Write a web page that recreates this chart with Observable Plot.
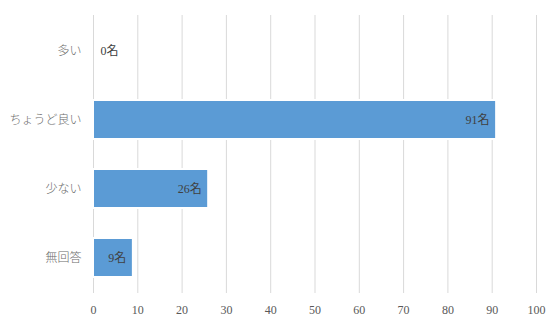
<!DOCTYPE html>
<html>
<head>
<meta charset="utf-8">
<script src="https://cdn.jsdelivr.net/npm/d3@7"></script>
<script src="https://cdn.jsdelivr.net/npm/@observablehq/plot@0.6"></script>
<style>
  html, body { margin: 0; padding: 0; background: #fff; }
  #chart svg { display: block; }
</style>
</head>
<body>
<div id="chart"></div>
<script>
const categories = ["多い", "ちょうど良い", "少ない", "無回答"];
const counts = [0, 91, 26, 9];
const xTicks = [0, 10, 20, 30, 40, 50, 60, 70, 80, 90, 100];
const unit = "名";

const data = categories.map((c, i) => ({ category: c, value: counts[i], label: counts[i] + unit }));

const chart = Plot.plot({
  width: 560,
  height: 327,
  marginLeft: 93,
  marginRight: 24,
  marginTop: 15,
  marginBottom: 34,
  style: { background: "#fff", fontFamily: "'Liberation Serif', serif" },
  x: { domain: [0, 100], ticks: xTicks, label: null },
  y: { domain: categories, label: null, paddingInner: 0.43, paddingOuter: 0.215 },
  marks: [
    Plot.gridX(xTicks, { stroke: "#d9d9d9", strokeOpacity: 1, strokeWidth: 1 }),
    Plot.barX(data, { x: "value", y: "category", fill: "#5b9bd5", stroke: "#fff", strokeWidth: 2 }),
    Plot.text(data.filter(d => d.value > 0), {
      x: "value", y: "category", text: "label", textAnchor: "end", dx: -7,
      fill: "#404040", fontSize: 12, fontFamily: "'Liberation Serif', 'Noto Sans CJK JP', serif"
    }),
    Plot.text(data.filter(d => d.value === 0), {
      x: "value", y: "category", text: "label", textAnchor: "start", dx: 7,
      fill: "#404040", fontSize: 12, fontFamily: "'Liberation Serif', 'Noto Sans CJK JP', serif"
    }),
    Plot.axisX({ ticks: xTicks, tickSize: 0, tickPadding: 12, fontSize: 12, fill: "#595959", label: null,
      fontFamily: "'Liberation Serif', serif" }),
    Plot.axisY({ tickSize: 0, tickPadding: 12, fontSize: 12, fill: "#6b6b6b", label: null,
      fontFamily: "'Noto Sans CJK JP', sans-serif", fontWeight: 300 })
  ]
});
document.getElementById("chart").appendChild(chart);
</script>
</body>
</html>
